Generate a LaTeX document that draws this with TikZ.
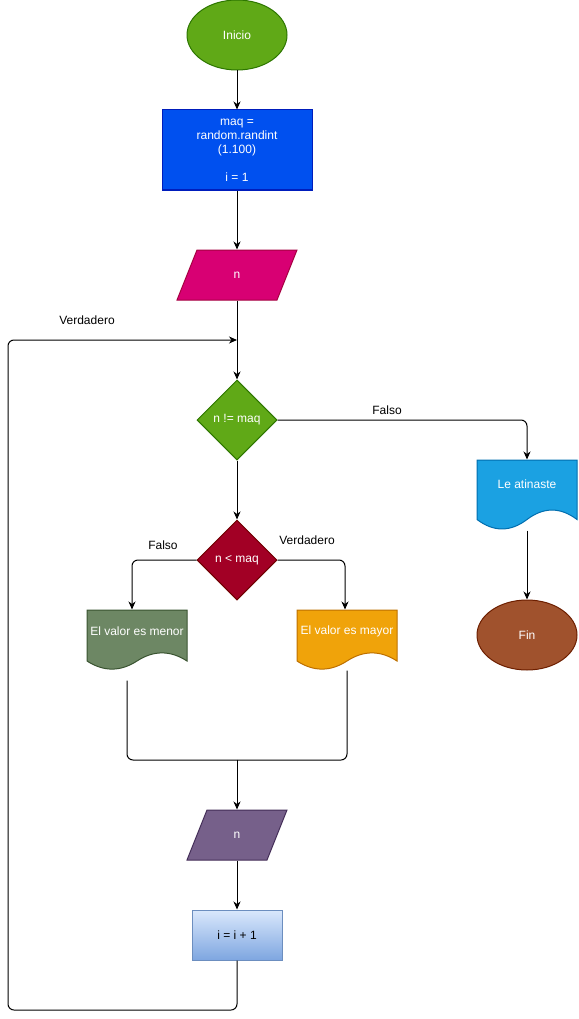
\documentclass[tikz,border=0pt]{standalone}
\usepackage{fontspec}
\setmainfont{Liberation Sans}
\usetikzlibrary{shapes.geometric,arrows.meta}

\definecolor{greenfill}{HTML}{60A917}
\definecolor{greenline}{HTML}{2D7600}
\definecolor{bluefill}{HTML}{0050EF}
\definecolor{blueline}{HTML}{001DBC}
\definecolor{pinkfill}{HTML}{D80073}
\definecolor{pinkline}{HTML}{A50040}
\definecolor{redfill}{HTML}{A20025}
\definecolor{redline}{HTML}{6F0000}
\definecolor{skyfill}{HTML}{1BA1E2}
\definecolor{skyline}{HTML}{006EAF}
\definecolor{brownfill}{HTML}{A0522D}
\definecolor{brownline}{HTML}{6D1F00}
\definecolor{olivefill}{HTML}{6D8764}
\definecolor{oliveline}{HTML}{3A5431}
\definecolor{amberfill}{HTML}{F0A30A}
\definecolor{amberline}{HTML}{BD7000}
\definecolor{violetfill}{HTML}{76608A}
\definecolor{violetline}{HTML}{432D57}
\definecolor{gradtop}{HTML}{DAE8FC}
\definecolor{gradbot}{HTML}{7EA6E0}
\definecolor{gradline}{HTML}{6C8EBF}

% document shape: wavy bottom edge; #1 name, #2 colours, #3 x, #4 y, #5 width, #6 height, #7 text
\newcommand\docbox[7]{%
  \pgfmathsetmacro\docdy{0.3*#6}%
  \draw[#2] (#3,#4) -- (#3+#5,#4) -- (#3+#5,#4+#6-0.5*\docdy)
    .. controls (#3+5*#5/6,#4+#6-1.1*\docdy) and (#3+2*#5/3,#4+#6-1.1*\docdy) .. (#3+#5/2,#4+#6-0.5*\docdy)
    .. controls (#3+#5/3,#4+#6+0.1*\docdy) and (#3+#5/6,#4+#6+0.1*\docdy) .. (#3,#4+#6-0.5*\docdy) -- cycle;
  \node[boxarea, minimum width=#5pt, minimum height=#6pt] (#1) at (#3+#5/2,#4+#6/2) {};
  \node[text=white] (#1-text) at (#3+#5/2,#4+#6/2-0.5*\docdy) {#7};
}
% parallelogram (data) shape: #1 name, #2 colours, #3 centre x, #4 centre y, #5 top width, #6 text
\newcommand\databox[6]{%
  \draw[#2] (#3-#5/2,#4-25) -- (#3+#5/2,#4-25) -- (#3+#5/2-20,#4+25) -- (#3-#5/2-20,#4+25) -- cycle;
  \node[boxarea, minimum width=#5pt, minimum height=50pt] (#1) at (#3-10,#4) {};
  \node[text=white] (#1-text) at (#3-10,#4) {#6};
}

\begin{document}
\begin{tikzpicture}[x=1pt,y=-1pt,
  font=\fontsize{12}{14}\selectfont,
  line width=1pt,
  boxarea/.style={rectangle, draw=none, inner sep=0pt},
  arr/.style={-{Stealth[length=8pt,width=7pt,inset=2.5pt]}, line width=1pt},
  link/.style={line width=1pt, rounded corners=6pt},
  decision/.style={diamond, minimum width=80pt, minimum height=80pt, inner sep=0pt, text=white},
  terminal/.style={ellipse, minimum width=100pt, minimum height=70pt, inner sep=0pt, text=white},
  elabel/.style={text=black, inner sep=0pt}]
\useasboundingbox (0,0) rectangle (578,1019);

% shapes
\node[terminal, draw=greenline, fill=greenfill] (inicio) at (237,35) {Inicio};
\node[rectangle, draw=blueline, fill=bluefill, text=white, minimum width=150pt, minimum height=80pt,
  inner sep=0pt, align=center] (maq) at (237,150) {maq =\\random.randint\\(1.100)\\[14pt]i = 1};
\databox{entrada}{draw=pinkline, fill=pinkfill}{247}{275}{100}{n}
\node[decision, draw=greenline, fill=greenfill] (cmp) at (237,420) {n != maq};
\node[decision, draw=redline, fill=redfill] (menorq) at (237,560) {n < maq};
\docbox{atin}{draw=skyline, fill=skyfill}{477}{460}{100}{70}{Le atinaste}
\node[terminal, draw=brownline, fill=brownfill] (fin) at (527,635) {Fin};
\docbox{menor}{draw=oliveline, fill=olivefill}{87}{610}{100}{60}{El valor es menor}
\docbox{mayor}{draw=amberline, fill=amberfill}{297}{610}{100}{60}{El valor es mayor}
\databox{salida}{draw=violetline, fill=violetfill}{247}{835}{80}{n}
\node[rectangle, draw=gradline, top color=gradtop, bottom color=gradbot, text=black,
  minimum width=90pt, minimum height=50pt, inner sep=0pt] (inc) at (237,935) {i = i + 1};

% junction points of the connectors
\coordinate (loopin) at (237,340);
\coordinate (merge) at (237,760);

% connectors
\draw[arr] (inicio) -- (maq);
\draw[arr] (maq) -- (entrada);
\draw[arr] (entrada) -- (cmp);
\draw[arr, link] (cmp.east) -| (atin.north);
\draw[arr] (atin.south) -- (fin);
\draw[arr] (cmp) -- (menorq);
\draw[arr, link] (menorq.west) -| ([xshift=-5pt]menor.north);
\draw[arr, link] (menorq.east) -| ([xshift=-2pt]mayor.north);
\draw[link] ([xshift=-10pt,yshift=-10pt]menor.south) |- (merge);
\draw[link] (mayor.south) |- (merge);
\draw[arr] (merge) -- (salida);
\draw[arr] (salida) -- (inc);
\draw[arr, link] (inc.south) -- (237,1010) -| (8,340) -- (loopin);

% connector labels
\node[elabel] at (387,410) {Falso};
\node[elabel] at (163,545) {Falso};
\node[elabel] at (307,540) {Verdadero};
\node[elabel] at (87,320) {Verdadero};
\end{tikzpicture}
\end{document}
